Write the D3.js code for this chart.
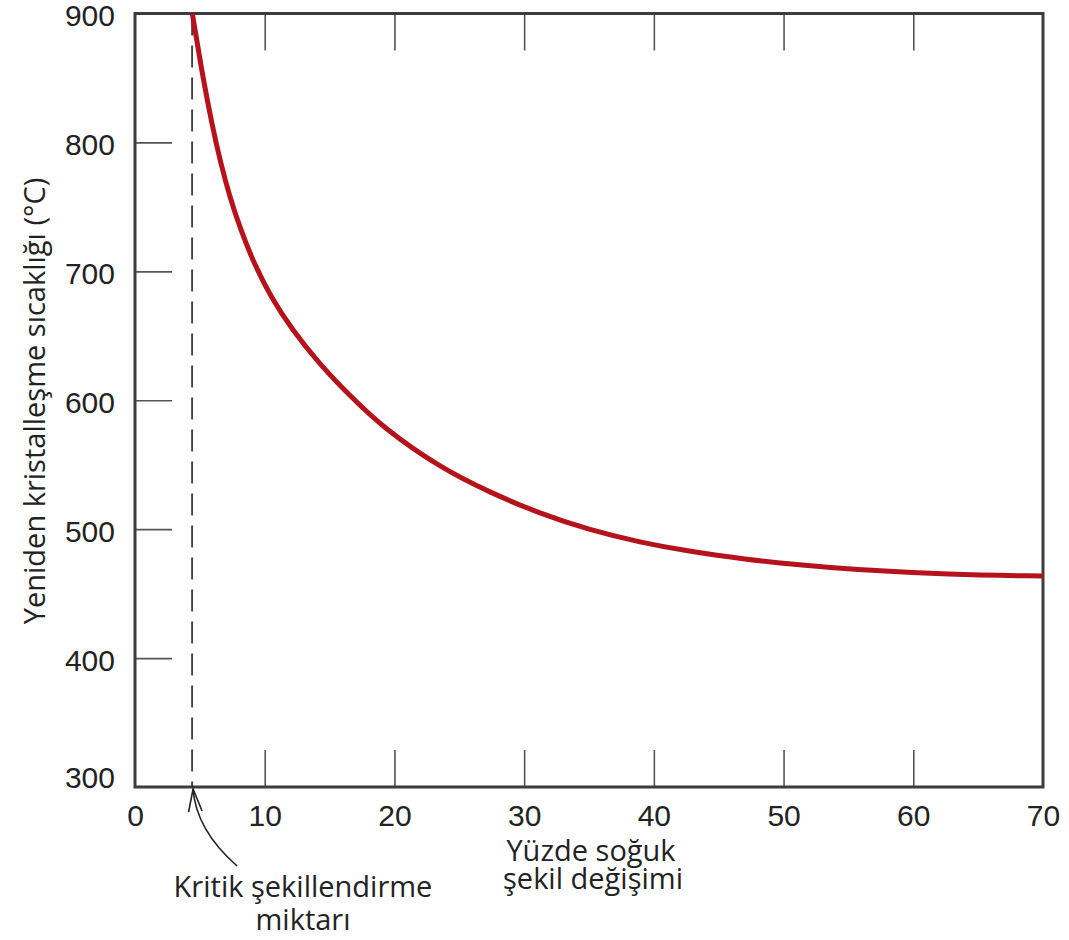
<!DOCTYPE html>
<html><head><meta charset="utf-8">
<script src="https://cdn.jsdelivr.net/npm/d3@7"></script>
<style>body{margin:0;background:#fff}</style>
</head><body>
<svg id="c" width="1069" height="940"></svg>
<script>
// Data
const strain = [4.42, 5.22, 5.97, 6.61, 7.30, 8.15, 9.17, 10.46, 12.13, 14.18, 16.62, 19.18, 23.51, 27.37, 31.22, 35.08, 38.93, 42.79, 47, 51.3, 55.1, 62.8, 70];
const temp   = [900, 851, 812.2, 783.8, 757.9, 732.1, 706.2, 680.3, 654.5, 628.7, 602.8, 578.3, 547.8, 528.4, 512.1, 499.3, 489.8, 482.6, 476.7, 472.1, 468.8, 464.8, 463.6];
const xTicks = [0, 10, 20, 30, 40, 50, 60, 70];
const yTicks = [300, 400, 500, 600, 700, 800, 900];
const criticalStrain = 4.4;
const yLabel = "Yeniden kristalleşme sıcaklığı (°C)";
const xLabelLines = ["Yüzde soğuk", "şekil değişimi"];
const noteLines = ["Kritik şekillendirme", "miktarı"];

const L = 135, R = 1043, T = 13.5, B = 787;
const svg = d3.select("#c");
const x = d3.scaleLinear().domain([0, 70]).range([L, R]);
const y = d3.scaleLinear().domain([300, 900]).range([B, T]);

const tickFont = "'Liberation Sans', Arial, sans-serif";
const textFont = "'Open Sans', 'Noto Sans', sans-serif";

// bottom axis
const gx = svg.append("g").attr("transform", `translate(0,${B})`)
  .call(d3.axisBottom(x).tickValues(xTicks).tickSizeInner(-37).tickSizeOuter(0).tickPadding(18));
// top axis (ticks only)
const gt = svg.append("g").attr("transform", `translate(0,${T})`)
  .call(d3.axisTop(x).tickValues(xTicks.slice(1, -1)).tickSizeInner(-37).tickSizeOuter(0).tickFormat(""));
// left axis
const gy = svg.append("g").attr("transform", `translate(${L},0)`)
  .call(d3.axisLeft(y).tickValues(yTicks).tickSizeInner(-37).tickSizeOuter(0).tickPadding(20));

[gx, gt, gy].forEach(g => {
  g.select(".domain").remove();
  g.selectAll(".tick line").attr("stroke", "#555").attr("stroke-width", 1.6);
  g.selectAll(".tick text").attr("font-family", tickFont).attr("font-size", 30).attr("fill", "#222");
});
// ticks coinciding with the frame are hidden
gx.selectAll(".tick").filter(d => d === 0 || d === 70).select("line").remove();
gy.selectAll(".tick").filter(d => d === 300 || d === 900).select("line").remove();
gy.selectAll(".tick text").attr("dy", d => d === 300 ? "0.0em" : "0.4em");

// frame
svg.append("rect").attr("x", L).attr("y", T).attr("width", R - L).attr("height", B - T)
  .attr("fill", "none").attr("stroke", "#3c3c3c").attr("stroke-width", 3);

// critical strain dashed line
svg.append("line")
  .attr("x1", x(criticalStrain)).attr("x2", x(criticalStrain))
  .attr("y1", y(900)).attr("y2", y(300))
  .attr("stroke", "#222").attr("stroke-width", 1.6).attr("stroke-dasharray", "22,10");

// curve
const data = strain.map((s, i) => [s, temp[i]]);
svg.append("path").datum(data)
  .attr("d", d3.line().x(d => x(d[0])).y(d => y(d[1])).curve(d3.curveBasis))
  .attr("fill", "none").attr("stroke", "#b5121b").attr("stroke-width", 5).attr("stroke-linecap", "butt");

// arrow
const tipX = x(criticalStrain) + 1, tipY = y(300) + 2;
svg.append("path")
  .attr("d", `M${tipX + 44},${tipY + 77} Q${tipX + 3},${tipY + 41} ${tipX},${tipY}`)
  .attr("fill", "none").attr("stroke", "#222").attr("stroke-width", 1.6);
svg.append("path")
  .attr("d", `M${tipX - 4.5},${tipY + 23} L${tipX},${tipY} L${tipX + 9},${tipY + 22}`)
  .attr("fill", "none").attr("stroke", "#222").attr("stroke-width", 1.6);

// annotation text
svg.append("text").attr("font-family", textFont).attr("font-size", 29).attr("fill", "#222")
  .attr("text-anchor", "middle")
  .selectAll("tspan").data(noteLines).join("tspan")
  .attr("x", 303).attr("y", (d, i) => 897 + i * 33).text(d => d);

// x label
svg.append("text").attr("font-family", textFont).attr("font-size", 29).attr("fill", "#222")
  .attr("text-anchor", "middle")
  .selectAll("tspan").data(xLabelLines).join("tspan")
  .attr("x", (d, i) => i === 0 ? 591 : 593).attr("y", (d, i) => 861 + i * 28).text(d => d);

// y label
svg.append("text").attr("font-family", textFont).attr("font-size", 29).attr("fill", "#222")
  .attr("text-anchor", "middle")
  .attr("transform", `translate(45,401) rotate(-90)`)
  .text(yLabel);
</script>
</body></html>
